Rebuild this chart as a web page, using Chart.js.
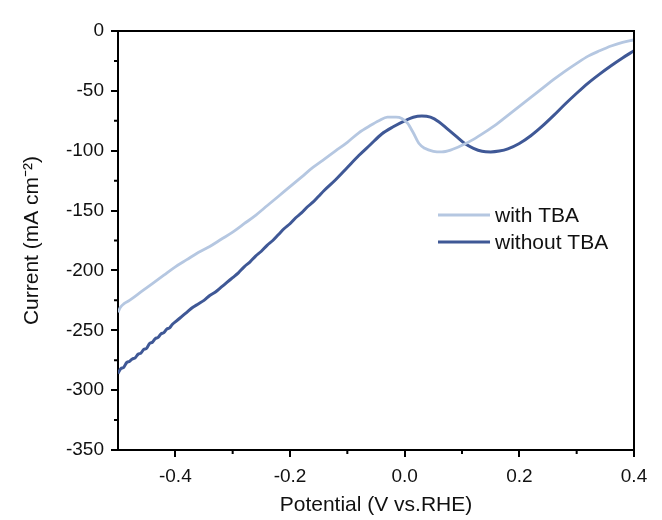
<!DOCTYPE html>
<html>
<head>
<meta charset="utf-8">
<script src="https://cdn.jsdelivr.net/npm/chart.js@4"></script>
<style>
  html, body { margin: 0; padding: 0; background: #fff; }
  #wrap { width: 662px; height: 520px; }
</style>
</head>
<body>
<div id="wrap"><canvas id="lsv-chart"></canvas></div>
<script>
// 数据
const seriesLabels = ['with TBA', 'without TBA'];

const withTbaX = [
  -0.500, -0.496, -0.490, -0.480, -0.460, -0.440, -0.420, -0.400, -0.380, -0.360,
  -0.340, -0.320, -0.300, -0.280, -0.260, -0.240, -0.220, -0.200, -0.180, -0.160,
  -0.140, -0.120, -0.100, -0.080, -0.060, -0.045, -0.030, -0.015, -0.005, 0.005,
  0.015, 0.025, 0.035, 0.050, 0.065, 0.080, 0.100, 0.120, 0.140, 0.160,
  0.180, 0.200, 0.220, 0.240, 0.260, 0.280, 0.300, 0.320, 0.340, 0.360,
  0.380, 0.400
];
const withTbaY = [
  -235, -231, -228, -225, -218, -211, -204, -197, -191, -185,
  -180, -174, -168, -161, -154, -146, -138, -130, -122, -114,
  -107, -100, -93, -85, -79, -75, -72, -72, -73, -77,
  -85, -94, -98, -100.5, -101, -99.5, -95.5, -90.5, -84.5, -78,
  -70.5, -63, -55.5, -48, -40.5, -33.5, -27, -21, -16.5, -12.5,
  -9.5, -7.5
];

const withoutTbaX = [
  -0.500, -0.495, -0.490, -0.485, -0.480, -0.475, -0.470, -0.465, -0.460, -0.455,
  -0.450, -0.445, -0.440, -0.435, -0.430, -0.425, -0.420, -0.415, -0.410, -0.405,
  -0.400, -0.395, -0.390, -0.380, -0.370, -0.360, -0.350, -0.340, -0.330, -0.320,
  -0.310, -0.300, -0.290, -0.280, -0.270, -0.260, -0.250, -0.240, -0.230, -0.220,
  -0.210, -0.200, -0.190, -0.180, -0.170, -0.160, -0.150, -0.140, -0.120, -0.100,
  -0.080, -0.060, -0.040, -0.020, 0.000, 0.015, 0.030, 0.045, 0.060, 0.075,
  0.090, 0.105, 0.120, 0.135, 0.150, 0.165, 0.180, 0.200, 0.220, 0.240,
  0.260, 0.280, 0.300, 0.320, 0.340, 0.360, 0.380, 0.400
];
const withoutTbaY = [
  -286, -282, -281, -277, -276, -274, -273, -270, -269, -266,
  -265, -261, -260, -257, -256, -253, -252, -249, -248, -245,
  -243, -241, -239, -235, -231, -228, -225, -221, -218, -214,
  -210, -206, -202, -197, -193, -188, -184, -179, -175, -170,
  -165, -161, -156, -152, -147, -143, -138, -133, -124, -114,
  -104, -95, -86, -80, -75, -72, -71, -72, -76, -82,
  -88, -94, -98, -100.5, -101, -100.3, -98.5, -94, -87.5, -79.5,
  -70.5, -61, -52, -43.5, -36, -29, -22.5, -16.5
];

// 刻度
const xTickValues = [-0.4, -0.2, 0.0, 0.2, 0.4];
const xMinorTicks = [-0.3, -0.1, 0.1, 0.3];
const yTickValues = [0, -50, -100, -150, -200, -250, -300, -350];
const yMinorTicks = [-25, -75, -125, -175, -225, -275, -325];

const colorLight = '#b5c7e1';
const colorDark = '#3f5896';
const fontFamily = '"Liberation Sans", Arial, sans-serif';

function toPoints(xs, ys) {
  return xs.map((x, i) => ({ x: x, y: ys[i] }));
}

/**
 * 边框、次刻度和图例
 */
const framePlugin = {
  id: 'frame',
  afterDraw(chart) {
    const { ctx, chartArea: area, scales } = chart;
    ctx.save();
    ctx.strokeStyle = '#000';
    ctx.lineWidth = 2;

    // 上边和右边框
    ctx.beginPath();
    ctx.moveTo(area.left, area.top);
    ctx.lineTo(area.right, area.top);
    ctx.lineTo(area.right, area.bottom);
    ctx.stroke();

    // 次刻度
    ctx.beginPath();
    xMinorTicks.forEach(v => {
      const px = scales.x.getPixelForValue(v);
      ctx.moveTo(px, area.bottom);
      ctx.lineTo(px, area.bottom + 4);
    });
    yMinorTicks.forEach(v => {
      const py = scales.y.getPixelForValue(v);
      ctx.moveTo(area.left, py);
      ctx.lineTo(area.left - 4, py);
    });
    ctx.stroke();

    // 图例
    ctx.font = '21px ' + fontFamily;
    ctx.textBaseline = 'middle';
    ctx.fillStyle = '#111';
    chart.data.datasets.forEach((ds, i) => {
      const y = 215 + i * 27;
      ctx.strokeStyle = ds.borderColor;
      ctx.lineWidth = 3;
      ctx.beginPath();
      ctx.moveTo(438, y);
      ctx.lineTo(490, y);
      ctx.stroke();
      ctx.fillText(ds.label, 495, y + 1);
    });
    ctx.restore();
  }
};

const chart = new Chart(document.getElementById('lsv-chart'), {
  type: 'scatter',
  data: {
    datasets: [
      {
        label: seriesLabels[0],
        data: toPoints(withTbaX, withTbaY),
        showLine: true,
        borderColor: colorLight,
        borderWidth: 2.8,
        pointRadius: 0,
        cubicInterpolationMode: 'monotone'
      },
      {
        label: seriesLabels[1],
        data: toPoints(withoutTbaX, withoutTbaY),
        showLine: true,
        borderColor: colorDark,
        borderWidth: 3,
        pointRadius: 0,
        cubicInterpolationMode: 'monotone'
      }
    ]
  },
  options: {
    responsive: true,
    maintainAspectRatio: false,
    animation: false,
    layout: { padding: { left: 8, right: 28, top: 31, bottom: 2 } },
    plugins: {
      legend: { display: false },
      tooltip: { enabled: false }
    },
    scales: {
      x: {
        type: 'linear',
        min: -0.5,
        max: 0.4,
        afterBuildTicks: scale => { scale.ticks = xTickValues.map(v => ({ value: v })); },
        afterFit: scale => { scale.height = 68; },
        border: { display: true, color: '#000', width: 2 },
        grid: { drawOnChartArea: false, drawTicks: true, tickLength: 7, color: '#000', lineWidth: 2 },
        ticks: {
          color: '#111',
          padding: 8,
          maxRotation: 0,
          font: { family: fontFamily, size: 19 },
          callback: v => Number(v).toFixed(1)
        },
        title: {
          display: true,
          text: 'Potential (V vs.RHE)',
          color: '#111',
          padding: { top: 4, bottom: 0 },
          font: { family: fontFamily, size: 21 }
        }
      },
      y: {
        type: 'linear',
        min: -350,
        max: 0,
        afterBuildTicks: scale => { scale.ticks = yTickValues.map(v => ({ value: v })); },
        afterFit: scale => { scale.width = 110; },
        border: { display: true, color: '#000', width: 2 },
        grid: { drawOnChartArea: false, drawTicks: true, tickLength: 7, color: '#000', lineWidth: 2 },
        ticks: {
          color: '#111',
          padding: 7,
          font: { family: fontFamily, size: 19 },
          callback: v => String(v)
        },
        title: {
          display: true,
          text: 'Current (mA cm⁻²)',
          color: '#111',
          padding: { top: 12, bottom: 0 },
          font: { family: fontFamily, size: 21 }
        }
      }
    }
  },
  plugins: [framePlugin]
});
</script>
</body>
</html>
